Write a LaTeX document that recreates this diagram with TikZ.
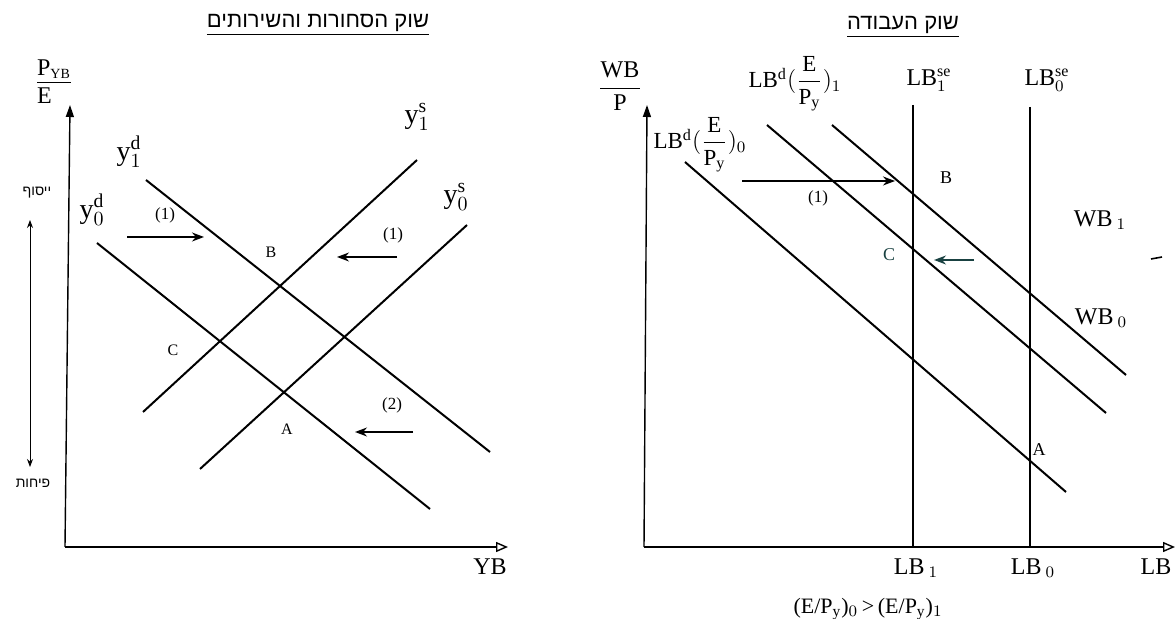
\documentclass[tikz,border=0pt]{standalone}
\usepackage{amsmath}
\usepackage{fontspec}
\setmainfont{Liberation Serif}
\newfontfamily\hebfont[Script=Hebrew]{Liberation Sans}
\TeXXeTstate=1
\usetikzlibrary{arrows.meta}

\definecolor{scanteal}{RGB}{25,65,65}

\tikzset{
  axis/.style={line width=0.7pt},
  curve/.style={line width=1pt},
  shiftarrow/.style={line width=0.7pt,-{Stealth[length=6pt,width=4.5pt]}},
  lbl/.style={inner sep=0pt,font=\fontsize{12}{14}\selectfont},
  ptlbl/.style={inner sep=0pt,font=\fontsize{8}{10}\selectfont},
  steplbl/.style={inner sep=0pt,font=\fontsize{8.5}{10}\selectfont},
  heb/.style={inner sep=0pt,font=\hebfont\fontsize{11}{13}\selectfont},
  hebsmall/.style={inner sep=0pt,font=\hebfont\fontsize{7}{9}\selectfont},
}

\begin{document}
\begin{tikzpicture}[x=0.5pt,y=-0.5pt]
\useasboundingbox (0,0) rectangle (1176,619);

% goods and services market
\node[heb] (title1) at (318,25) {\underline{\beginR שוק הסחורות והשירותים\endR}};

\coordinate (O1) at (65,547);
\coordinate (Y1) at (70,105);
\coordinate (X1) at (508,547);
\draw[axis,-{Triangle[length=6pt,width=4pt]}] (O1) -- (Y1);
\draw[axis,-{Triangle[open,length=6pt,width=5pt]}] (O1) -- (X1);

\node[lbl] (pyb) at (54,84) {\begin{tabular}{@{}l@{}}P\textsubscript{\fontsize{7}{8}\selectfont YB}\\[-1pt]\hline\noalign{\vskip1pt}E\end{tabular}};
\node[lbl] (yb) at (490,567) {YB};

\coordinate (d1a) at (146,180);  \coordinate (d1b) at (490,452);
\coordinate (d0a) at (97,243);   \coordinate (d0b) at (430,509);
\coordinate (s1a) at (143,412);  \coordinate (s1b) at (417,160);
\coordinate (s0a) at (200,469);  \coordinate (s0b) at (467,225);
\draw[curve] (d1a) -- (d1b);
\draw[curve] (d0a) -- (d0b);
\draw[curve] (s1a) -- (s1b);
\draw[curve] (s0a) -- (s0b);

\node[lbl,font=\fontsize{14}{16}\selectfont] (y1d) at (129,152) {$\mathrm{y}^{\mathrm{d}}_{1}$};
\node[lbl,font=\fontsize{14}{16}\selectfont] (y0d) at (92,210) {$\mathrm{y}^{\mathrm{d}}_{0}$};
\node[lbl,font=\fontsize{14}{16}\selectfont] (y1s) at (417,117) {$\mathrm{y}^{\mathrm{s}}_{1}$};
\node[lbl,font=\fontsize{14}{16}\selectfont] (y0s) at (456,197) {$\mathrm{y}^{\mathrm{s}}_{0}$};

\node[ptlbl] (B1) at (271,252) {B};
\node[ptlbl] (C1) at (173,350) {C};
\node[ptlbl] (A1) at (287,429) {A};

\node[steplbl] (st1) at (165,215) {(1)};
\coordinate (sh1a) at (127,237); \coordinate (sh1b) at (204,237);
\draw[shiftarrow] (sh1a) -- (sh1b);
\node[steplbl] (st2) at (393,235) {(1)};
\coordinate (sh2a) at (397,257); \coordinate (sh2b) at (337,257);
\draw[shiftarrow] (sh2a) -- (sh2b);
\node[steplbl] (st3) at (392,405) {(2)};
\coordinate (sh3a) at (413,432); \coordinate (sh3b) at (355,432);
\draw[shiftarrow] (sh3a) -- (sh3b);

\node[hebsmall] (appr) at (37,193) {\beginR ייסוף\endR};
\node[hebsmall] (depr) at (33,483) {\beginR פיחות\endR};
\coordinate (vtop) at (30,220); \coordinate (vbot) at (30,467);
\draw[line width=0.5pt,{Stealth[length=4pt,width=3pt]}-{Stealth[length=4pt,width=3pt]}] (vtop) -- (vbot);

% labour market
\node[heb] (title2) at (903,27) {\underline{\beginR שוק העבודה\endR}};

\coordinate (O2) at (644,547);
\coordinate (Y2) at (647,105);
\coordinate (X2) at (1175,547);
\draw[axis,-{Triangle[length=6pt,width=4pt]}] (O2) -- (Y2);
\draw[axis,-{Triangle[open,length=6pt,width=5pt]}] (O2) -- (X2);

\node[lbl] (wbp) at (620,86) {$\dfrac{\mathrm{WB}\vphantom{P}}{\;\;\mathrm{P}\;\;}$};
\node[lbl] (lbx) at (1156,567) {LB};

\coordinate (se1a) at (913,105); \coordinate (se1b) at (913,547);
\coordinate (se0a) at (1030,107); \coordinate (se0b) at (1030,547);
\draw[curve] (se1a) -- (se1b);
\draw[curve] (se0a) -- (se0b);

\coordinate (ld0a) at (685,162);  \coordinate (ld0b) at (1066,492);
\coordinate (ld1a) at (767,125);  \coordinate (ld1b) at (1106,413);
\coordinate (ld2a) at (832,125);  \coordinate (ld2b) at (1126,375);
\draw[curve] (ld0a) -- (ld0b);
\draw[curve] (ld1a) -- (ld1b);
\draw[curve] (ld2a) -- (ld2b);

\node[lbl,font=\fontsize{11.5}{13}\selectfont] (lbd0) at (700,145) {$\mathrm{LB}^{\mathrm{d}}(\dfrac{\mathrm{E}}{\mathrm{P_y}})_{0}$};
\node[lbl,font=\fontsize{11.5}{13}\selectfont] (lbd1) at (795,84) {$\mathrm{LB}^{\mathrm{d}}(\dfrac{\mathrm{E}}{\mathrm{P_y}})_{1}$};
\node[lbl] (lbse1) at (929,80) {$\mathrm{LB}^{\mathrm{se}}_{1}$};
\node[lbl] (lbse0) at (1047,80) {$\mathrm{LB}^{\mathrm{se}}_{0}$};

\node[lbl] (wb1) at (1100,220) {WB$\,_{1}$};
\node[lbl] (wb0) at (1101,318) {WB$\,_{0}$};

\node[ptlbl,font=\fontsize{9}{11}\selectfont] (B2) at (946,178) {B};
\node[ptlbl,font=\fontsize{9}{11}\selectfont,text=scanteal] (C2) at (889,255) {C};
\node[ptlbl,font=\fontsize{9}{11}\selectfont] (A2) at (1039,450) {A};

\node[steplbl] (st4) at (818,198) {(1)};
\coordinate (sh4a) at (742,181); \coordinate (sh4b) at (895,181);
\draw[shiftarrow] (sh4a) -- (sh4b);
\coordinate (sh5a) at (974,260); \coordinate (sh5b) at (934,260);
\draw[shiftarrow,scanteal] (sh5a) -- (sh5b);

\coordinate (mka) at (1151,259); \coordinate (mkb) at (1162,257);
\draw[line width=0.8pt] (mka) -- (mkb);

\node[lbl] (lb1) at (916,568) {LB$\,_{1}$};
\node[lbl] (lb0) at (1033,568) {LB$\,_{0}$};
\node[lbl,font=\fontsize{11}{13}\selectfont] (cond) at (868,609) {(E/P$_{\mathrm{y}}$)$_0$\,>\,(E/P$_{\mathrm{y}}$)$_1$};
\end{tikzpicture}
\end{document}
